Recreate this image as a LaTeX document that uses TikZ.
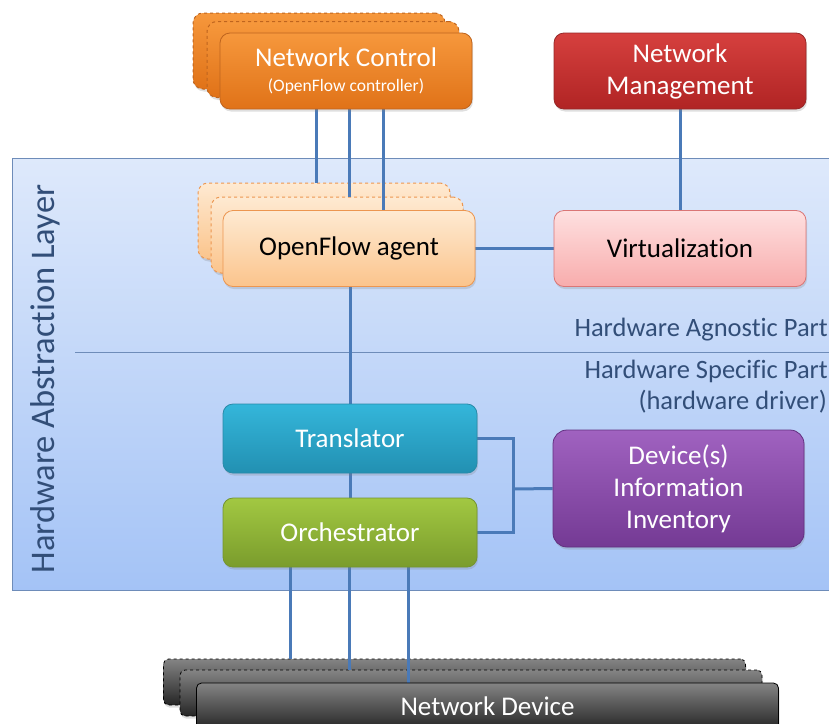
\documentclass[tikz,border=0pt]{standalone}
\usepackage{fontspec}
\setmainfont{Carlito}[Ligatures=NoCommon]
\usetikzlibrary{positioning,shadows}

\definecolor{linkblue}{RGB}{74,122,184}
\definecolor{labelblue}{RGB}{50,78,120}
\definecolor{ncTop}{RGB}{246,152,60}
\definecolor{ncBot}{RGB}{224,114,24}
\definecolor{ncLine}{RGB}{190,100,30}
\definecolor{nmTop}{RGB}{214,64,62}
\definecolor{nmBot}{RGB}{176,36,36}
\definecolor{nmLine}{RGB}{150,40,40}
\definecolor{agTop}{RGB}{254,234,210}
\definecolor{agBot}{RGB}{251,196,140}
\definecolor{agLine}{RGB}{236,150,80}
\definecolor{viTop}{RGB}{254,224,224}
\definecolor{viBot}{RGB}{248,172,172}
\definecolor{viLine}{RGB}{218,118,118}
\definecolor{trTop}{RGB}{52,182,218}
\definecolor{trBot}{RGB}{34,144,178}
\definecolor{trLine}{RGB}{40,138,168}
\definecolor{orTop}{RGB}{162,200,66}
\definecolor{orBot}{RGB}{122,156,44}
\definecolor{orLine}{RGB}{116,148,48}
\definecolor{diTop}{RGB}{160,98,192}
\definecolor{diBot}{RGB}{116,58,148}
\definecolor{diLine}{RGB}{98,48,128}
\definecolor{ndTop}{RGB}{132,132,132}
\definecolor{ndBot}{RGB}{38,38,38}
\definecolor{halTop}{RGB}{222,233,251}
\definecolor{halBot}{RGB}{164,195,246}
\definecolor{halLine}{RGB}{110,140,185}

\pgfdeclarelayer{back}
\pgfsetlayers{back,main}

\begin{document}
\begin{tikzpicture}[x=1pt,y=-1pt,
  box/.style={rounded corners=10pt,minimum width=252pt,minimum height=76pt,
    align=center,line width=0.8pt,font=\fontsize{27}{32}\selectfont,
    drop shadow={opacity=0.25,shadow xshift=1pt,shadow yshift=-2.5pt}},
  ghost/.style={box,dashed,line width=1pt},
  netctrl/.style={draw=ncLine,top color=ncTop,bottom color=ncBot,text=white},
  netmgmt/.style={draw=nmLine,top color=nmTop,bottom color=nmBot,text=white},
  agent/.style={draw=agLine,top color=agTop,bottom color=agBot},
  virt/.style={draw=viLine,top color=viTop,bottom color=viBot},
  transl/.style={draw=trLine,top color=trTop,bottom color=trBot,text=white,minimum width=254pt,minimum height=69pt},
  orchst/.style={draw=orLine,top color=orTop,bottom color=orBot,text=white,minimum width=254pt,minimum height=69pt},
  invent/.style={draw=diLine,top color=diTop,bottom color=diBot,text=white,minimum width=251pt,minimum height=117pt,rounded corners=14pt},
  device/.style={box,draw=black,top color=ndTop,bottom color=ndBot,text=white,minimum width=582pt,minimum height=46pt,rounded corners=5pt},
  link/.style={draw=linkblue,line width=3pt},
  part/.style={text=labelblue,anchor=east,inner sep=0pt,font=\fontsize{26.5}{30}\selectfont}]

  \clip (0,0) rectangle (829,723);

  % front boxes
  \node[box,netctrl] (nc3) at (346,71) {Network Control\\[-7pt]{\fontsize{17.5}{20}\selectfont (OpenFlow controller)}};
  \node[box,netmgmt] (nm) at (680,71) {Network\\Management};
  \node[box,agent] (ag3) at (349,248.5) {OpenFlow agent};
  \node[box,virt] (vi) at (680,248.5) {Virtualization};
  \node[box,transl] (tr) at (350,438.5) {Translator};
  \node[box,orchst] (or) at (350,532.5) {Orchestrator};
  \node[box,invent] (di) at (678.5,488.5) {Device(s)\\Information\\Inventory};
  \node[device] (nd3) at (487.5,706) {Network Device};

  \begin{pgfonlayer}{back}
    % hardware abstraction layer
    \path[draw=halLine,line width=1pt,top color=halTop,bottom color=halBot]
      (12,158) rectangle (860,590);
    \draw[halLine,line width=1pt] (75,352) -- (860,352);
    \node[text=labelblue,rotate=90,font=\fontsize{34.5}{40}\selectfont] (hal) at (45,379) {Hardware Abstraction Layer};

    % stacked copies
    \node[ghost,netctrl] (nc1) at (319,51) {};
    \node[ghost,netctrl] (nc2) at (333,59.5) {};
    \node[ghost,agent] (ag1) at (324,221) {};
    \node[ghost,agent] (ag2) at (337,235) {};
    \node[device,dashed] (nd1) at (454.5,682) {};
    \node[device,dashed] (nd2) at (471,693) {};

    \draw[link] ([xshift=-30pt]nc3.south) -- ([xshift=-30pt]nc3.south |- ag1.north);
    \draw[link] ([xshift=3pt]nc3.south) -- ([xshift=3pt]nc3.south |- ag2.north);
    \draw[link] ([xshift=37pt]nc3.south) -- ([xshift=37pt]nc3.south |- ag3.north);
    \draw[link] (nm.south) -- (vi.north);
    \draw[link] (ag3.east) -- (vi.west);
    \draw[link] (ag3.south -| tr.north) -- (tr.north);
    \draw[link] (tr.south) -- (or.north);
    \coordinate (jn) at (513,489);
    \draw[link] (tr.east) -| (jn) |- (or.east);
    \draw[link] (jn) -- (di.west);
    \draw[link] ([xshift=-60pt]or.south) -- ([xshift=-60pt]or.south |- nd1.north);
    \draw[link] ([xshift=-1pt]or.south) -- ([xshift=-1pt]or.south |- nd2.north);
    \draw[link] ([xshift=58pt]or.south) -- ([xshift=58pt]or.south |- nd3.north);
  \end{pgfonlayer}

  \node[part] (agn) at (828,330) {Hardware Agnostic Part};
  \node[part] (spc) at (828,371) {Hardware Specific Part};
  \node[part] (drv) at (827,402) {(hardware driver)};
\end{tikzpicture}
\end{document}
